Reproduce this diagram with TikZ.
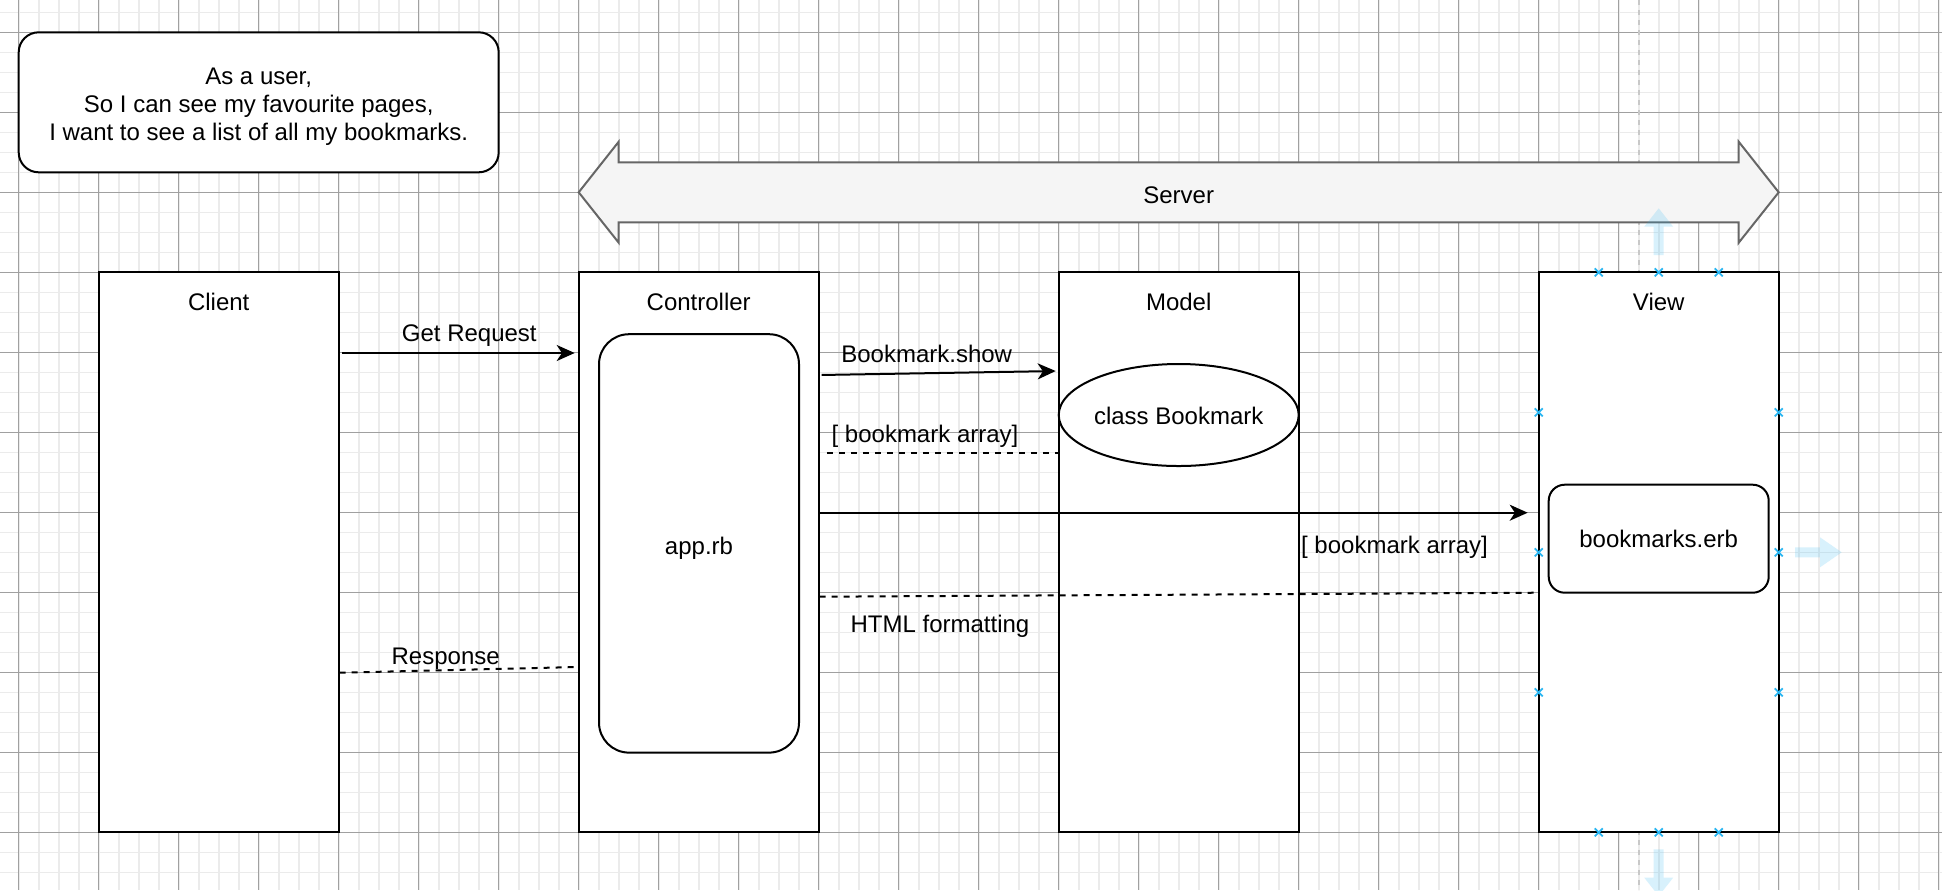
\documentclass[tikz,border=0pt]{standalone}
\usepackage{fontspec}
\setmainfont{Liberation Sans}
\usetikzlibrary{arrows.meta,shapes.geometric}
\definecolor{minorc}{RGB}{235,235,235}
\definecolor{majorc}{RGB}{160,160,160}
\definecolor{selblue}{RGB}{41,182,242}
\definecolor{srvfill}{RGB}{245,245,245}
\definecolor{srvline}{RGB}{102,102,102}
\definecolor{guidec}{RGB}{200,200,200}
\begin{document}
\begin{tikzpicture}[x=0.5pt,y=-0.5pt,
  minorline/.style={draw=minorc,line width=0.8pt},
  majorline/.style={draw=majorc,line width=0.45pt},
  lane/.style={draw=black,fill=white,line width=1pt,minimum width=120pt,minimum height=280pt,inner sep=0pt},
  txt/.style={inner sep=0pt,font=\fontsize{12pt}{14.4pt}\selectfont,text height=8.6pt,text depth=0pt},
  innerbox/.style={draw=black,fill=white,line width=1pt,inner sep=0pt,font=\fontsize{12pt}{14.4pt}\selectfont,text height=9pt,text depth=0pt},
  arr/.style={draw=black,line width=1pt,-{Stealth[length=9pt,width=8pt,inset=2.6pt]}},
  dline/.style={draw=black,line width=1pt,dash pattern=on 3pt off 3pt},
  srv/.style={draw=srvline,fill=srvfill,line width=1pt,line join=miter},
  ghost/.style={fill=selblue,fill opacity=0.18},
  guide/.style={draw=guidec,line width=1pt,dash pattern=on 2.5pt off 2.5pt},
  selx/.style={draw=selblue,line width=0.9pt}
]
\useasboundingbox (0,0) rectangle (1942,890);
\clip (0,0) rectangle (1942,890);
\fill[white] (0,0) rectangle (1942,890);
% background grid
\foreach \i in {0,...,97} {\draw[minorline] ({-1.3+20*\i},0) -- ({-1.3+20*\i},890);}
\foreach \j in {0,...,45} {\draw[minorline] (0,{-7.7+20*\j}) -- (1942,{-7.7+20*\j});}
\foreach \i in {0,...,24} {\draw[majorline] ({18.7+80*\i},0) -- ({18.7+80*\i},890);}
\foreach \j in {0,...,10} {\draw[majorline] (0,{32.3+80*\j}) -- (1942,{32.3+80*\j});}
% selection guide
\draw[guide] (1638.7,0) -- (1638.7,890);
% user story
\node[draw=black,fill=white,line width=1pt,inner sep=0pt,minimum width=240pt,minimum height=70pt,rounded corners=10pt] (story) at (258.7,102.3) {};
\node[inner sep=0pt,align=center,font=\fontsize{12pt}{14pt}\selectfont] (storyT) at (258.7,106.5) {As a user,\\So I can see my favourite pages,\\I want to see a list of all my bookmarks.};
% server arrow
\draw[srv] (578.7,192.3) -- (618.7,141.7) -- (618.7,162.3) -- (1738.7,162.3) -- (1738.7,141.7) -- (1778.7,192.3) -- (1738.7,242.7) -- (1738.7,222.3) -- (618.7,222.3) -- (618.7,242.7) -- cycle;
\node[txt] (server) at (1178.7,195) {Server};
% lanes
\node[lane] (client) at (218.7,552.3) {};
\node[lane] (ctrl) at (698.7,552.3) {};
\node[lane] (model) at (1178.7,552.3) {};
\node[lane] (view) at (1658.7,552.3) {};
\node[txt] (clientT) at (218.7,301.7) {Client};
\node[txt] (ctrlT) at (698.7,301.7) {Controller};
\node[txt] (modelT) at (1178.7,301.7) {Model};
\node[txt] (viewT) at (1658.7,301.7) {View};
% inner elements
\node[innerbox,text height=10.6pt,minimum width=100pt,minimum height=209.2pt,rounded corners=15pt] (app) at (699,543.4) {app.rb};
\node[innerbox,ellipse,minimum width=120pt,minimum height=51pt] (cls) at (1178.7,415) {class Bookmark};
\node[innerbox,minimum width=110pt,minimum height=54pt,rounded corners=8pt] (erb) at (1658.7,538.7) {bookmarks.erb};
% connectors
\draw[arr,shorten <=1pt,shorten >=1.5pt] (client.east |- 0,353) -- (ctrl.west |- 0,353);
\node[txt] (lGR) at (469.3,333.3) {Get Request};
\draw[arr,shorten <=1pt,shorten >=1pt] (ctrl.east |- 0,375) -- (model.west |- 0,371);
\node[txt] (lBS) at (926.7,354.3) {Bookmark.show};
\draw[dline,shorten <=3.6pt] (ctrl.east |- 0,452.7) -- (model.west |- 0,452.7);
\node[txt] (lBA1) at (925,434.3) {[ bookmark array]};
\draw[arr,shorten >=5pt] (ctrl.east |- 0,512.7) -- (view.west |- 0,512.7);
\node[txt] (lBA2) at (1394.5,545) {[ bookmark array]};
\draw[dline] (ctrl.east |- 0,596.7) -- (view.west |- 0,592.7);
\node[txt] (lHTML) at (940,624) {HTML formatting};
\draw[dline] (client.east |- 0,672.7) -- (ctrl.west |- 0,667);
\node[txt] (lResp) at (445.7,655.7) {Response};
% selection handles
\fill[ghost] (1653.7,255) -- (1653.7,226.7) -- (1644.2,226.7) -- (1658.7,208.3) -- (1673.2,226.7) -- (1663.7,226.7) -- (1663.7,255) -- cycle;
\fill[ghost] (1795,547.3) -- (1820,547.3) -- (1820,537.3) -- (1841.7,552.3) -- (1820,567.3) -- (1820,557.3) -- (1795,557.3) -- cycle;
\fill[ghost] (1653.7,849.3) -- (1653.7,877.6) -- (1644.2,877.6) -- (1658.7,896) -- (1673.2,877.6) -- (1663.7,877.6) -- (1663.7,849.3) -- cycle;
\foreach \p in {(1598.7,272.3),(1658.7,272.3),(1718.7,272.3),(1598.7,832.3),(1658.7,832.3),(1718.7,832.3),(1538.7,412.3),(1538.7,552.3),(1538.7,692.3),(1778.7,412.3),(1778.7,552.3),(1778.7,692.3)} {
  \draw[selx] \p ++(-4,-4) -- ++(8,8);
  \draw[selx] \p ++(-4,4) -- ++(8,-8);
}
\end{tikzpicture}
\end{document}
